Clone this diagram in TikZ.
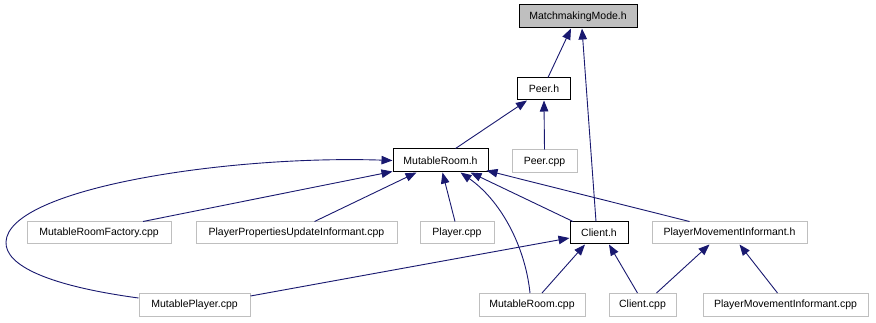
\documentclass[tikz,border=0pt]{standalone}
\usepackage{fontspec}
\setmainfont{Liberation Sans}
\usetikzlibrary{arrows.meta}
\definecolor{edgeblue}{HTML}{191970}
\definecolor{boxgray}{HTML}{BFBFBF}
\begin{document}
\begin{tikzpicture}[x=1pt,y=-1pt,
  file/.style={draw=boxgray,line width=1pt,fill=white,inner sep=0pt,
    font=\fontsize{10.5}{12}\selectfont,minimum height=22pt},
  hdr/.style={file,draw=black},
  focus/.style={file,draw=black,fill=boxgray},
  dep/.style={draw=edgeblue,line width=0.9pt,-{Triangle[length=11pt,width=8.5pt]}}]
\useasboundingbox (0,0) rectangle (876,323);
\fill[white] (0,0) rectangle (876,323);

% nodes
\node[focus,minimum width=118pt,minimum height=23pt] (mm) at (578,16.5) {MatchmakingMode.h};
\node[hdr,minimum width=53pt] (peerh) at (544,89) {Peer.h};
\node[file,minimum width=65pt,minimum height=23pt] (peercpp) at (544.5,161.5) {Peer.cpp};
\node[hdr,minimum width=95pt,minimum height=23pt] (mrh) at (440.5,160.5) {MutableRoom.h};
\node[file,minimum width=144pt] (mrf) at (99,233) {MutableRoomFactory.cpp};
\node[file,minimum width=201pt] (ppui) at (296.5,233) {PlayerPropertiesUpdateInformant.cpp};
\node[file,minimum width=74pt] (player) at (457,233) {Player.cpp};
\node[hdr,minimum width=58pt] (clienth) at (599,233) {Client.h};
\node[file,minimum width=155pt] (pmih) at (729.5,233) {PlayerMovementInformant.h};
\node[file,minimum width=111pt,minimum height=23pt] (mp) at (194.5,305) {MutablePlayer.cpp};
\node[file,minimum width=106pt,minimum height=23pt] (mrcpp) at (532,305) {MutableRoom.cpp};
\node[file,minimum width=67pt,minimum height=23pt] (clientcpp) at (642.5,305) {Client.cpp};
\node[file,minimum width=165pt,minimum height=23pt] (pmicpp) at (785.5,305) {PlayerMovementInformant.cpp};

% include dependencies
\draw[dep] ([xshift=4pt]peerh.north) -- ([xshift=-7pt]mm.south);
\draw[dep] ([xshift=-3pt]clienth.north) -- ([xshift=4pt]mm.south);
\draw[dep] ([xshift=15pt]mrh.north) -- ([xshift=-17pt]peerh.south);
\draw[dep] (peercpp.north) -- (peerh.south);
\draw[dep] ([xshift=44pt]mrf.north) -- ([yshift=1pt]mrh.south west);
\draw[dep] ([yshift=-5pt]mp.north west)
  .. controls (50,286) and (5,266) .. (6,242)
  .. controls (8,188) and (230,155) .. (mrh.west);
\draw[dep] ([xshift=18pt]ppui.north) -- ([xshift=-24pt]mrh.south);
\draw[dep] ([xshift=-2pt]player.north) -- ([xshift=2pt]mrh.south);
\draw[dep] ([xshift=-2pt]mrcpp.north) .. controls (525,245) and (500,200) .. ([xshift=20pt]mrh.south);
\draw[dep] ([xshift=-26pt]clienth.north) -- ([xshift=30pt]mrh.south);
\draw[dep] ([xshift=-40pt]pmih.north) -- ([xshift=-2pt,yshift=2pt]mrh.south east);
\draw[dep] ([yshift=-3pt]mp.north east) -- ([yshift=-5pt]clienth.west);
\draw[dep] ([xshift=10pt]mrcpp.north) -- ([xshift=-14pt]clienth.south);
\draw[dep] ([xshift=-5pt]clientcpp.north) -- ([xshift=10pt]clienth.south);
\draw[dep] ([xshift=14pt]clientcpp.north) -- ([xshift=-20pt]pmih.south);
\draw[dep] ([xshift=-8pt]pmicpp.north) -- ([xshift=10pt]pmih.south);
\end{tikzpicture}
\end{document}
